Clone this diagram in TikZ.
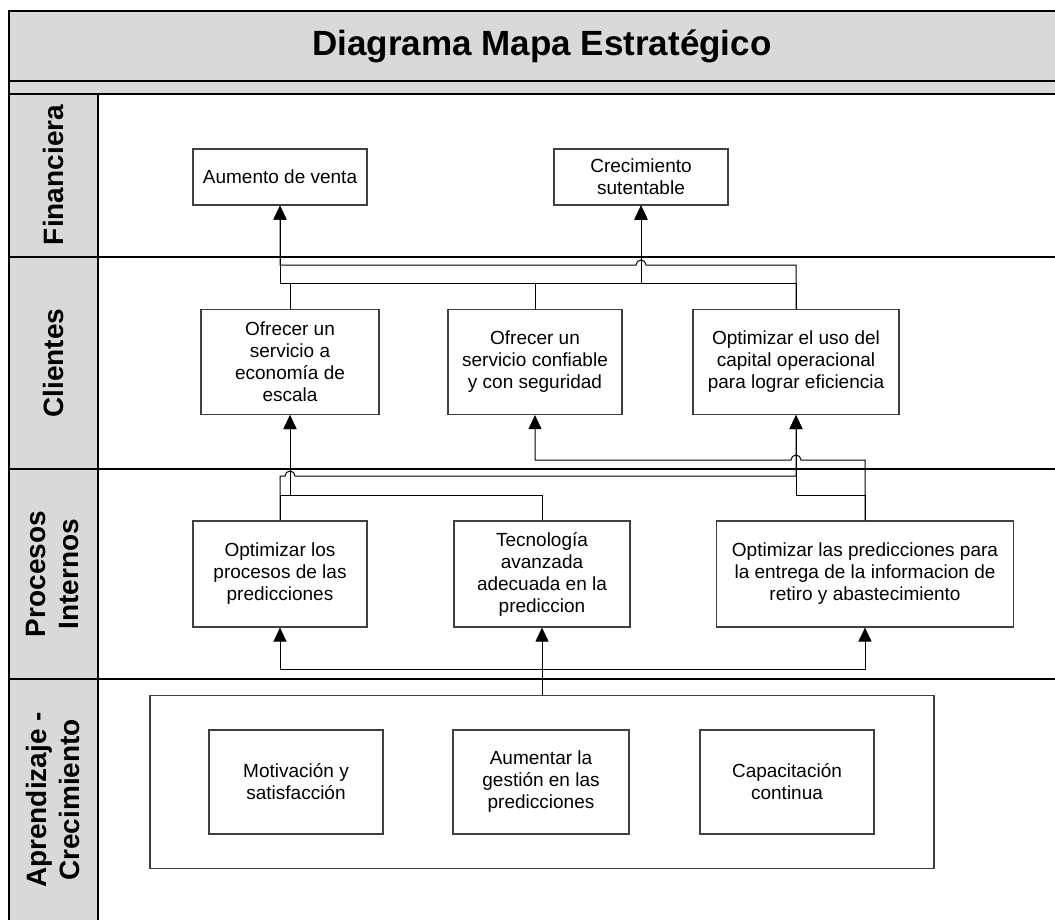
\documentclass[tikz,border=0pt]{standalone}
\usepackage{fontspec}
\setmainfont{Liberation Sans}
\usetikzlibrary{arrows.meta,calc}
\definecolor{grisfondo}{RGB}{217,217,217}

\begin{document}
\begin{tikzpicture}[x=1pt, y=-1pt,
    every node/.style={font=\fontsize{19}{22}\selectfont, align=center},
    caja/.style={draw=black!75, line width=1.2pt, fill=white, inner sep=4pt},
    carril/.style={font=\bfseries\fontsize{28}{33}\selectfont, rotate=90},
    flecha/.style={-{Triangle[length=14pt,width=13pt]}, line width=1pt},
    marco/.style={line width=1.5pt}]
    \useasboundingbox (0,0) rectangle (1055,920);

    % fondo y marco
    \fill[grisfondo] (9,11) rectangle (1055,94);
    \fill[grisfondo] (9,94) rectangle (98,920);
    \draw[marco] (1055,11) -- (9,11) -- (9,920);
    \draw[marco] (9,81) -- (1055,81);
    \draw[marco] (9,94) -- (1055,94);
    \draw[marco] (98,94) -- (98,920);
    \draw[marco] (9,257) -- (1055,257);
    \draw[marco] (9,469) -- (1055,469);
    \draw[marco] (9,679) -- (1055,679);

    \node[font=\bfseries\fontsize{35}{40}\selectfont] (titulo) at (542,46) {Diagrama Mapa Estratégico};

    \node[carril] (finan) at (53,175) {Financiera};
    \node[carril] (clien) at (53,363) {Clientes};
    \node[carril] (proce) at (53,574) {Procesos\\Internos};
    \node[carril] (apren) at (53,800) {Aprendizaje -\\Crecimiento};

    % financiera
    \node[caja, minimum width=174pt, minimum height=56pt] (fin1) at (280,177) {Aumento de venta};
    \node[caja, minimum width=174pt, minimum height=56pt] (fin2) at (641,177) {Crecimiento\\sutentable};

    % clientes
    \node[caja, minimum width=178pt, minimum height=105pt] (cli1) at (290,362) {Ofrecer un\\servicio a\\economía de\\escala};
    \node[caja, minimum width=174pt, minimum height=105pt] (cli2) at (535,362) {Ofrecer un\\servicio confiable\\y con seguridad};
    \node[caja, minimum width=206pt, minimum height=105pt] (cli3) at (796,362) {Optimizar el uso del\\capital operacional\\para lograr eficiencia};

    % procesos internos
    \node[caja, minimum width=174pt, minimum height=106pt] (pro1) at (280,574) {Optimizar los\\procesos de las\\predicciones};
    \node[caja, minimum width=176pt, minimum height=106pt] (pro2) at (542,574) {Tecnología\\avanzada\\adecuada en la\\prediccion};
    \node[caja, minimum width=297pt, minimum height=106pt] (pro3) at (865,574) {Optimizar las predicciones para\\la entrega de la informacion de\\retiro y abastecimiento};

    % aprendizaje
    \node[caja, minimum width=784pt, minimum height=173pt] (apr) at (542,782) {};
    \node[caja, minimum width=174pt, minimum height=104pt] (apr1) at (296,782) {Motivación y\\satisfacción};
    \node[caja, minimum width=176pt, minimum height=104pt] (apr2) at (541,782) {Aumentar la\\gestión en las\\predicciones};
    \node[caja, minimum width=174pt, minimum height=104pt] (apr3) at (787,782) {Capacitación\\continua};

    \coordinate (busA) at (0,283);
    \coordinate (busB) at (0,265);
    \coordinate (busC) at (0,495);
    \coordinate (busD) at (0,476);
    \coordinate (busE) at (0,460);
    \coordinate (busF) at (0,669);

    % clientes -> financiera
    \draw[flecha] (cli1.north) |- (busA -| fin1.south) -- (fin1.south);
    \draw[flecha] (cli1.north) |- (busA -| fin2.south) -- (fin2.south);
    \draw[flecha] (cli2.north) |- (busA -| fin2.south) -- (fin2.south);
    \draw[flecha] (cli3.north) |- (busA -| fin2.south) -- (fin2.south);
    \draw[flecha] (cli3.north) |- ($(busB -| fin2.south)+(5,0)$) arc[start angle=0, end angle=180, radius=5pt] -- (busB -| fin1.south) -- (fin1.south);

    % procesos -> clientes
    \draw[flecha] (pro1.north) |- (busC -| cli1.south) -- (cli1.south);
    \draw[flecha] (pro2.north) |- (busC -| cli1.south) -- (cli1.south);
    \draw[flecha] (pro1.north) |- ($(busD -| cli1.south)-(5,0)$) arc[start angle=180, end angle=0, radius=5pt] -- (busD -| cli3.south) -- (cli3.south);
    \draw[flecha] (pro3.north) |- (busC -| cli3.south) -- (cli3.south);
    \draw[flecha] (pro3.north) |- ($(busE -| cli3.south)+(5,0)$) arc[start angle=0, end angle=180, radius=5pt] -- (busE -| cli2.south) -- (cli2.south);

    % aprendizaje -> procesos
    \draw[flecha] (apr.north) -- (pro2.south);
    \draw[flecha] (apr.north) |- (busF -| pro1.south) -- (pro1.south);
    \draw[flecha] (apr.north) |- (busF -| pro3.south) -- (pro3.south);
\end{tikzpicture}
\end{document}
